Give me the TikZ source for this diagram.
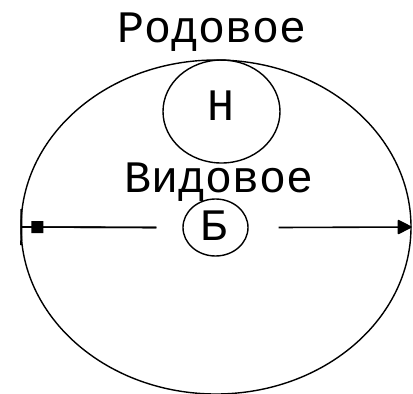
\documentclass[tikz,border=0pt]{standalone}
\usepackage{fontspec}
\usepackage{tikz}
\usetikzlibrary{arrows.meta,shapes.geometric}
\newfontfamily\courier{Liberation Mono}
\tikzset{
  ring/.style={draw,ellipse,line width=1.4pt,inner sep=0pt},
  word/.style={font=\courier\fontsize{45}{50}\selectfont,inner sep=0pt,anchor=base},
  span/.style={line width=1.6pt}
}
\begin{document}
\begin{tikzpicture}[x=1pt,y=-1pt]
  \useasboundingbox (0,0) rectangle (413,394);
  % outer ellipse and the two inner circles
  \node[ring,minimum width=390pt,minimum height=334pt] (genus) at (216,227) {};
  \node[ring,minimum width=117pt,minimum height=103pt] (n) at (221.5,111.5) {};
  \node[ring,minimum width=65pt,minimum height=57pt] (b) at (215.5,227.5) {};
  % texts
  \node[word] (rodovoe) at (212.5,42) {Родовое};
  \node[word] (vidovoe) at (219.5,192) {Видовое};
  \node[word] (nlbl) at (221,120) {Н};
  \node[word] (blbl) at (214,240) {Б};
  % diameter with the gap round the small circle
  \coordinate (lgap) at ([xshift=-26pt]b.west);
  \coordinate (rgap) at ([xshift=30pt]b.east);
  \draw[span,{Bar[width=36pt,line width=2pt]}-] (genus.west) -- (lgap);
  \draw[span,{Square[length=12pt,width=12pt]}-] ([xshift=11pt]genus.west) -- (lgap);
  \draw[span,-{Triangle[length=15pt,width=15pt,round]}] (rgap) -- (genus.east);
\end{tikzpicture}
\end{document}
